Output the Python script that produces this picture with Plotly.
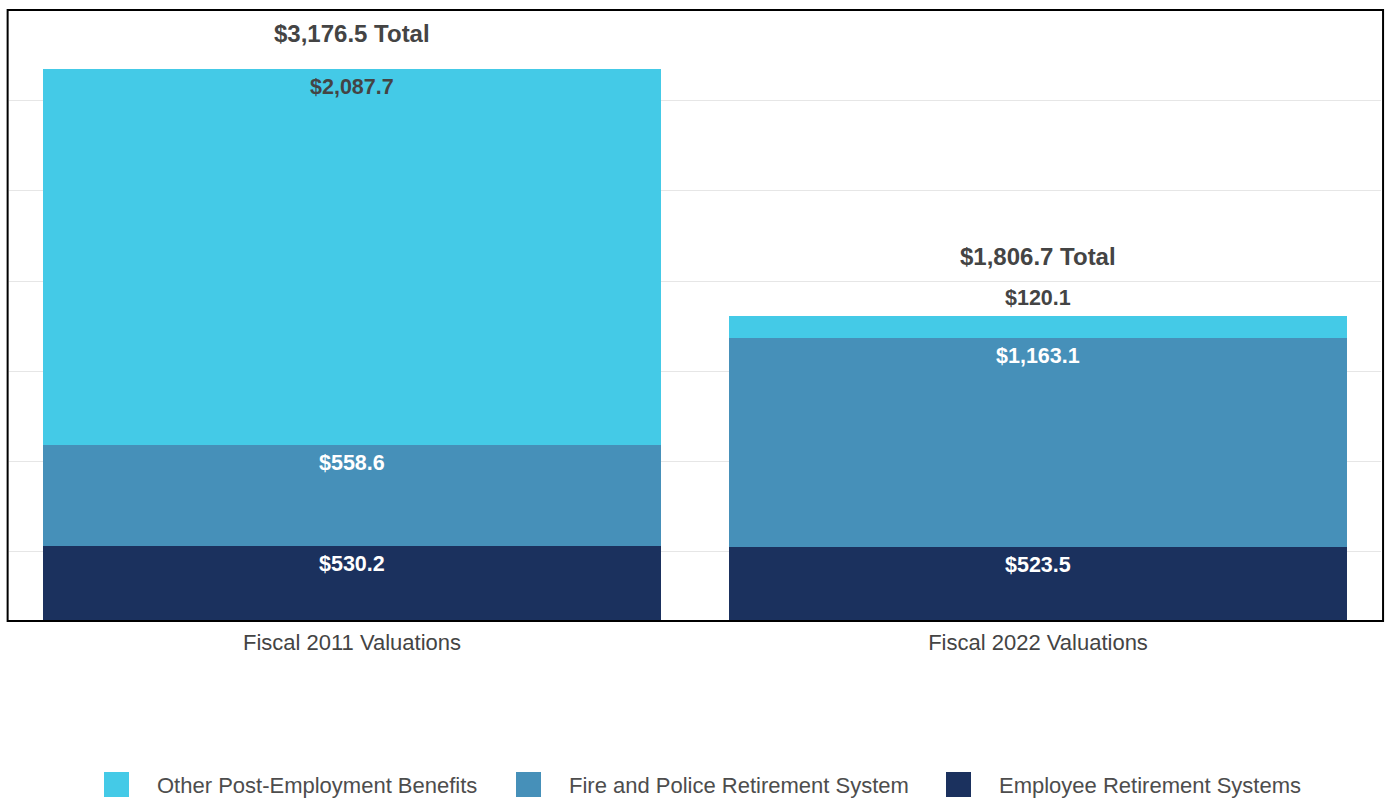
import plotly.graph_objects as go

# Unfunded liabilities by valuation year ($ millions)
categories = ["Fiscal 2011 Valuations", "Fiscal 2022 Valuations"]
series_names = [
    "Employee Retirement Systems",
    "Fire and Police Retirement System",
    "Other Post-Employment Benefits",
]
ers_values = [530.2, 523.5]
fprs_values = [558.6, 1163.1]
opeb_values = [2087.7, 120.1]

colors = {
    "Employee Retirement Systems": "#1B315E",
    "Fire and Police Retirement System": "#4690B9",
    "Other Post-Employment Benefits": "#44CAE7",
}
label_colors = {
    "Employee Retirement Systems": "white",
    "Fire and Police Retirement System": "white",
    "Other Post-Employment Benefits": "#444444",
}

stack = [ers_values, fprs_values, opeb_values]
totals = [sum(v) for v in zip(*stack)]

FONT = "Liberation Sans, Arial, sans-serif"
TEXT_DARK = "#444444"

fig = go.Figure()
for name, vals in zip(series_names, stack):
    fig.add_trace(go.Bar(
        x=categories, y=vals, name=name,
        marker=dict(color=colors[name], line=dict(width=0)),
        showlegend=False, hoverinfo="x+y+name",
    ))

annotations = []
small_top = [False] * len(categories)
cum = [0.0] * len(categories)
for si, (name, vals) in enumerate(zip(series_names, stack)):
    for ci, v in enumerate(vals):
        cum[ci] += v
        text = f"${v:,.1f}"
        outside = v < 300
        if outside and si == len(stack) - 1:
            small_top[ci] = True
        annotations.append(dict(
            x=categories[ci], y=cum[ci], xref="x", yref="y",
            text=f"<b>{text}</b>", showarrow=False,
            yanchor="middle", yshift=18 if outside else -18,
            font=dict(family=FONT, size=21.5,
                      color=TEXT_DARK if outside else label_colors[name]),
        ))

for ci, t in enumerate(totals):
    annotations.append(dict(
        x=categories[ci], y=t, xref="x", yref="y",
        text=f"<b>${t:,.1f} Total</b>", showarrow=False,
        yanchor="middle", yshift=36 + (23 if small_top[ci] else 0),
        font=dict(family=FONT, size=24, color=TEXT_DARK),
    ))

# Legend drawn as swatches plus labels beneath the plot
legend_order = [
    "Other Post-Employment Benefits",
    "Fire and Police Retirement System",
    "Employee Retirement Systems",
]
legend_x = [104, 516, 946]
plot_l, plot_w, plot_b, plot_h = 9, 1372, 621, 611
shapes = []
for name, px in zip(legend_order, legend_x):
    shapes.append(dict(
        type="rect", xref="paper", yref="paper",
        x0=(px - plot_l) / plot_w, x1=(px + 25 - plot_l) / plot_w,
        y0=(plot_b - 797) / plot_h, y1=(plot_b - 772) / plot_h,
        fillcolor=colors[name], line=dict(width=0),
    ))
    annotations.append(dict(
        x=(px + 51 - plot_l) / plot_w, y=(plot_b - 785) / plot_h,
        xref="paper", yref="paper", xanchor="left", yanchor="middle",
        text=name, showarrow=False,
        font=dict(family=FONT, size=22, color="#4d4d4d"),
    ))

# Plot frame
shapes.append(dict(
    type="rect", xref="paper", yref="paper", x0=-0.001, x1=1.0015, y0=0, y1=1,
    line=dict(color="black", width=2), layer="above",
))

fig.update_layout(
    width=1388, height=798,
    margin=dict(l=9, r=7, t=10, b=177),
    barmode="stack", bargap=0.1,
    plot_bgcolor="white", paper_bgcolor="white",
    font=dict(family=FONT, size=22, color=TEXT_DARK),
    annotations=annotations, shapes=shapes,
    showlegend=False,
    xaxis=dict(showgrid=False, showline=False, zeroline=False, ticks="",
               ticklabelstandoff=6,
               tickfont=dict(family=FONT, size=22, color=TEXT_DARK)),
    yaxis=dict(range=[114, 3504], dtick=500, tick0=0, showgrid=True,
               gridcolor="#e6e6e6", gridwidth=1, zeroline=False,
               showticklabels=False, ticks=""),
)

fig.write_html("out.html")
